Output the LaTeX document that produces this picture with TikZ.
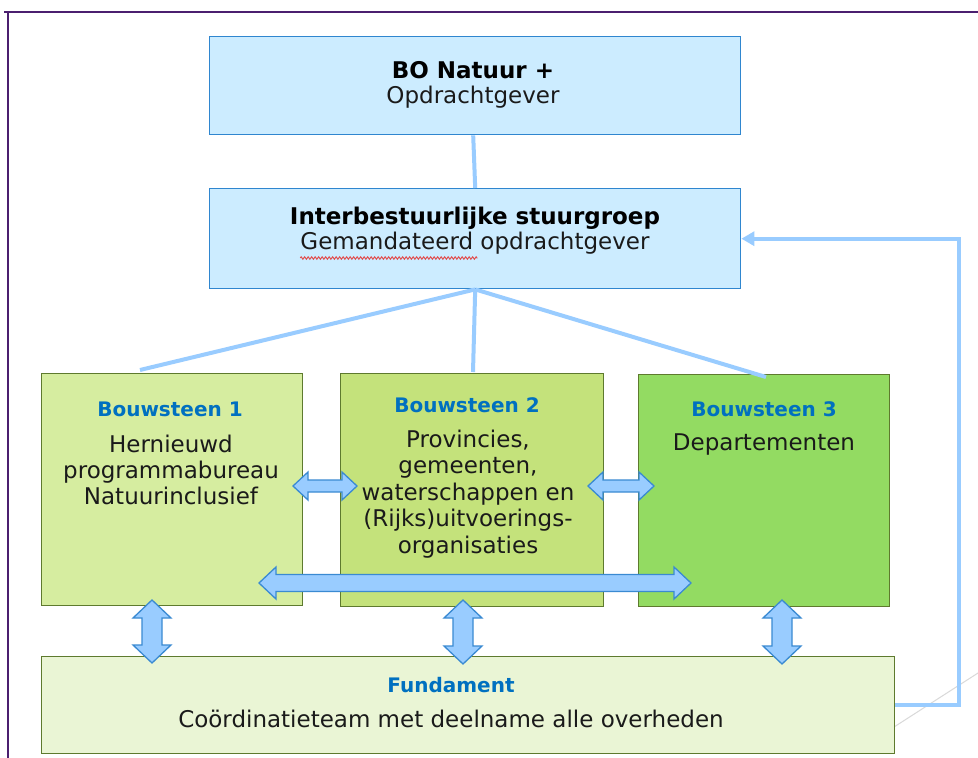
\documentclass[tikz,border=0pt]{standalone}
\usepackage{fontspec}
\setmainfont{DejaVu Sans}
\usetikzlibrary{arrows.meta,decorations.pathmorphing}
\definecolor{framepurple}{HTML}{4B1F6F}
\definecolor{boxblue}{HTML}{CCECFF}
\definecolor{boxblueline}{HTML}{2F86CF}
\definecolor{linkblue}{HTML}{99CCFF}
\definecolor{arrowline}{HTML}{3A8AD2}
\definecolor{titleblue}{HTML}{0070C0}
\definecolor{greenline}{HTML}{5E7A2E}
\definecolor{gA}{HTML}{D6EDA0}
\definecolor{gB}{HTML}{C4E27B}
\definecolor{gC}{HTML}{93DB62}
\definecolor{gF}{HTML}{EAF5D5}
\definecolor{textgray}{HTML}{1A1A1A}
\definecolor{squiggle}{HTML}{E05050}
\newcommand\HArrow[6]{% x1 x2 y shafthalf headhalf headlen
  \filldraw[darrow] (#1,#3) -- ({#1+#6},{#3-#5}) -- ({#1+#6},{#3-#4}) -- ({#2-#6},{#3-#4}) -- ({#2-#6},{#3-#5}) -- (#2,#3) -- ({#2-#6},{#3+#5}) -- ({#2-#6},{#3+#4}) -- ({#1+#6},{#3+#4}) -- ({#1+#6},{#3+#5}) -- cycle;}
\newcommand\VArrow[6]{% y1 y2 x shafthalf headhalf headlen
  \filldraw[darrow] (#3,#1) -- ({#3+#5},{#1+#6}) -- ({#3+#4},{#1+#6}) -- ({#3+#4},{#2-#6}) -- ({#3+#5},{#2-#6}) -- (#3,#2) -- ({#3-#5},{#2-#6}) -- ({#3-#4},{#2-#6}) -- ({#3-#4},{#1+#6}) -- ({#3-#5},{#1+#6}) -- cycle;}
\begin{document}
\begin{tikzpicture}[x=1pt,y=-1pt,
  bluebox/.style={draw=boxblueline, fill=boxblue, line width=1.4pt, inner sep=0pt, anchor=north west},
  greenbox/.style={draw=greenline, line width=1.3pt, inner sep=0pt, anchor=north west},
  link/.style={draw=linkblue, line width=4pt},
  darrow/.style={fill=linkblue, draw=arrowline, line width=1.3pt, line join=miter},
  body/.style={font=\fontsize{23}{26}\selectfont, text=textgray, inner sep=0pt, anchor=base},
  bodyb/.style={font=\fontsize{23}{26}\selectfont\bfseries, text=black, inner sep=0pt, anchor=base},
  title/.style={font=\fontsize{20}{24}\selectfont\bfseries, text=titleblue, inner sep=0pt, anchor=base}]
\useasboundingbox (0,0) rectangle (978,758);
\fill[white] (0,0) rectangle (978,758);
% frame
\draw[framepurple, line width=1.6pt] (4,12) -- (978,12);
\draw[framepurple, line width=1.6pt] (8,12) -- (8,758);
% faint diagonal
\draw[black!15, line width=1pt] (880,736) -- (978,673);
% boxes
\node[bluebox, minimum width=531pt, minimum height=98pt] (bo) at (209,36) {};
\node[bluebox, minimum width=531pt, minimum height=100pt] (ib) at (209,188) {};
\node[greenbox, fill=gA, minimum width=261pt, minimum height=232pt] (b1) at (41,373) {};
\node[greenbox, fill=gB, minimum width=263pt, minimum height=233pt] (b2) at (340,373) {};
\node[greenbox, fill=gC, minimum width=251pt, minimum height=232pt] (b3) at (638,374) {};
\node[greenbox, fill=gF, minimum width=853pt, minimum height=97pt] (fund) at (41,656) {};
% links
\coordinate (t1) at (140,370);
\coordinate (t2) at (473,372);
\coordinate (t3) at (766,377);
\coordinate (rc) at (959,704.5);
\draw[link] ([xshift=-2pt]bo.south) -- (ib.north);
\draw[link] (ib.south) -- (t1);
\draw[link] (ib.south) -- (t2);
\draw[link] (ib.south) -- (t3);
\draw[link, line join=miter, -{Triangle[length=13pt,width=14pt]}] (fund.east |- rc) -- (rc) |- (ib.east);
% texts
\node[bodyb] (bot) at (473,78) {BO Natuur +};
\node[body] (bos) at (473,103) {Opdrachtgever};
\node[bodyb] (ibt) at (475,224) {Interbestuurlijke stuurgroep};
\node[body] (ibs) at (475,249) {Gemandateerd opdrachtgever};
\coordinate (sq1) at ([yshift=-9pt]ibs.base west);
\coordinate (sq2) at ([yshift=-9pt,xshift=177pt]ibs.base west);
\draw[squiggle, line width=1pt, decorate, decoration={zigzag, amplitude=1.2pt, segment length=3.5pt}] (sq1) -- (sq2);
\node[title] (b1t) at (170,416) {Bouwsteen 1};
\foreach \t [count=\i] in {Hernieuwd,programmabureau,Natuurinclusief}
  \node[body] (b1l\i) at (171,{452+26*(\i-1)}) {\t};
\node[title] (b2t) at (467,412) {Bouwsteen 2};
\foreach \t [count=\i] in {{Provincies,},{gemeenten,},waterschappen en,(Rijks)uitvoerings-,organisaties}
  \node[body] (b2l\i) at (468,{447+26.5*(\i-1)}) {\t};
\node[title] (b3t) at (764,416) {Bouwsteen 3};
\node[body] (b3l1) at (764,450) {Departementen};
\node[title] (ft) at (451,692) {Fundament};
\node[body] (fl) at (451,727) {Coördinatieteam met deelname alle overheden};
% double arrows
\HArrow{293}{357}{486}{6}{14}{15}
\HArrow{588}{654}{486}{6}{14}{15}
\HArrow{259}{691}{583}{8.5}{16}{17}
\VArrow{600}{663}{152}{10}{19}{18}
\VArrow{600}{664}{463}{10}{19}{18}
\VArrow{600}{664}{782}{10}{19}{18}
\end{tikzpicture}
\end{document}
